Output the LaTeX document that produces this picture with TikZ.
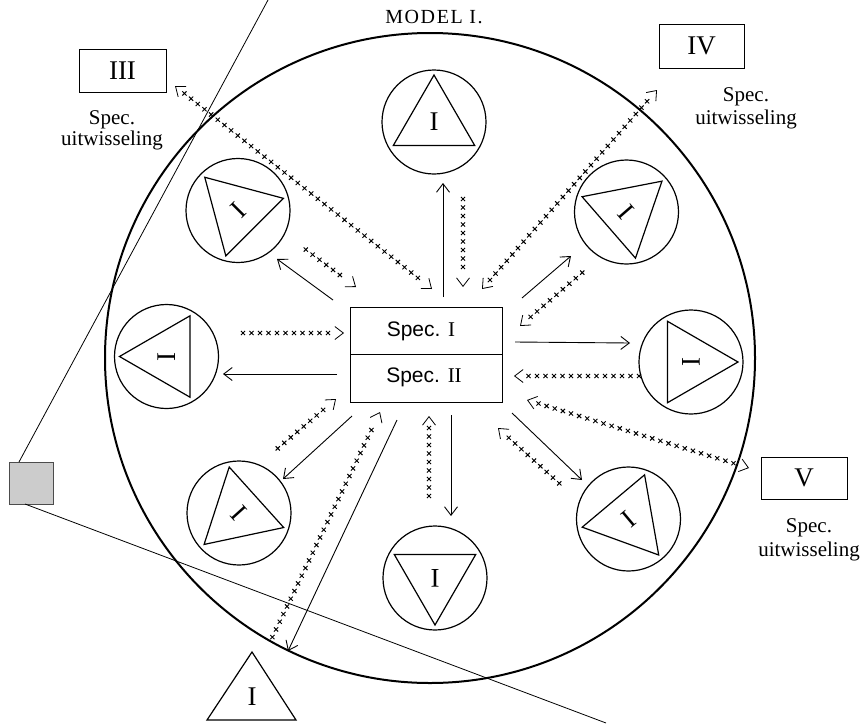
\documentclass[tikz,border=0pt]{standalone}
\usepackage{fontspec}
\setmainfont{Liberation Serif}
\newfontfamily\boxfont{Liberation Sans}
\usetikzlibrary{arrows.meta,decorations.markings,calc}
\newcommand\mycell[3]{%
  \node[smallc] (#1) at (#2) {};
  \draw[tri] ($(#1.center)+({-(#3)}:47)$) -- ($(#1.center)+({-(#3)-120}:47)$) -- ($(#1.center)+({-(#3)+120}:47)$) -- cycle;
  \node[lbl, rotate=#3-90] (#1l) at (#1.center) {I};
}
\tikzset{
  every node/.style={inner sep=0pt, outer sep=0pt},
  smallc/.style={draw, circle, line width=1.2pt, minimum size=104pt},
  tri/.style={line width=1.2pt, line join=miter},
  lbl/.style={font=\fontsize{27}{27}\selectfont},
  numbox/.style={draw, line width=1pt, font=\fontsize{27}{27}\selectfont},
  spx/.style={font=\fontsize{21}{21}\selectfont, anchor=base},
  boxtxt/.style={font=\boxfont\fontsize{21}{21}\selectfont},
  tipx/.tip={Straight Barb[length=8.5pt,width=13pt]},
  sol/.style={line width=0.9pt, -tipx},
  xmk/.style={postaction={decorate, decoration={markings,
     mark=between positions #1 step 8.5pt with {\pgftransformresetnontranslations
       \draw[solid,arrows=-,line width=0.95pt] (-2.1pt,-2.1pt)--(2.1pt,2.1pt) (-2.1pt,2.1pt)--(2.1pt,-2.1pt);}}}},
  xone/.style={line width=0.8pt, dash pattern=on 0pt off 3000pt, -tipx, xmk={1pt and -12pt}},
  xtwo/.style={line width=0.8pt, dash pattern=on 0pt off 3000pt, tipx-tipx, xmk={12pt and -12pt}},
}
\begin{document}
\begin{tikzpicture}[x=1pt,y=-1pt]
\useasboundingbox (0,0) rectangle (864,723);

% title
\node[font=\fontsize{20}{20}\selectfont\addfontfeature{LetterSpace=8}] (title) at (434,17) {MODEL I.};

% big circle
\node[draw, circle, line width=2pt, minimum size=650pt] (big) at (430,358) {};

% small circles with triangles
\mycell{ct}{434,122}{90}
\mycell{cur}{626.5,212}{41}
\mycell{cr}{691,362}{0}
\mycell{clr}{628.5,519}{310}
\mycell{cb}{435,578}{270}
\mycell{cll}{239,513}{222}
\mycell{cl}{166.5,356.5}{180}
\mycell{cul}{238,210.5}{135}

% central box
\node[draw, line width=1pt, minimum width=152pt, minimum height=95pt] (sbox) at (426,354.5) {};
\draw[line width=1pt] (sbox.west) -- (sbox.east);
\node[boxtxt] (sp1) at (421,331) {Spec. {\rmfamily I}};
\node[boxtxt] (sp2) at (424,377) {Spec. {\rmfamily II}};

% exchange boxes
\node[numbox, minimum width=87pt, minimum height=43pt] (b3) at (122.5,70.5) {III};
\node[spx] (b3a) at (112,124) {Spec.};
\node[spx] (b3b) at (112,145) {uitwisseling};
\node[numbox, minimum width=85pt, minimum height=44pt] (b4) at (701.5,46) {IV};
\node[spx] (b4a) at (746,101) {Spec.};
\node[spx] (b4b) at (746,124) {uitwisseling};
\node[numbox, minimum width=86pt, minimum height=42pt] (b5) at (804,478) {V};
\node[spx] (b5a) at (809,532) {Spec.};
\node[spx] (b5b) at (809,556) {uitwisseling};

% outside square and lines
\node[draw=black!70, line width=0.6pt, fill=black!20, minimum width=44pt, minimum height=42pt] (sq) at (31,483) {};
\coordinate (top) at (268,0);
\coordinate (bot) at (606,723);
\draw[line width=0.8pt] ($(sq.north west)+(10,0)$) -- (top);
\draw[line width=0.8pt] ($(sq.south west)+(16,0)$) -- (bot);

% outside triangle
\coordinate (ota) at (252,652);
\coordinate (otb) at (207,720);
\coordinate (otc) at (296,720);
\draw[tri] (ota) -- (otb) -- (otc) -- cycle;
\node[lbl] (otl) at (252,697) {I};

% solid arrows
\coordinate (a1) at (333,300); \coordinate (a1e) at (277,259);
\coordinate (a2) at (443,297); \coordinate (a2e) at (443,183);
\coordinate (a3) at (522,298); \coordinate (a3e) at (571,256);
\coordinate (a4) at (515,342); \coordinate (a4e) at (630,343);
\coordinate (a5) at (512,413); \coordinate (a5e) at (582,480);
\coordinate (a6) at (451,415); \coordinate (a6e) at (451,516);
\coordinate (a7) at (352,416); \coordinate (a7e) at (283,479);
\coordinate (a8) at (337,374); \coordinate (a8e) at (223,374);
\coordinate (a9) at (397,420); \coordinate (a9e) at (288,651);
\draw[sol] (a1) -- (a1e);
\draw[sol] (a2) -- (a2e);
\draw[sol] (a3) -- (a3e);
\draw[sol] (a4) -- (a4e);
\draw[sol] (a5) -- (a5e);
\draw[sol] (a6) -- (a6e);
\draw[sol] (a7) -- (a7e);
\draw[sol] (a8) -- (a8e);
\draw[sol] (a9) -- (a9e);

% x-lines
\coordinate (x1) at (175,86); \coordinate (x1e) at (432,289);
\coordinate (x2) at (305,249); \coordinate (x2e) at (356,287);
\coordinate (x3) at (463,198); \coordinate (x3e) at (463,287);
\coordinate (x4) at (583,272); \coordinate (x4e) at (520,326);
\coordinate (x5) at (482,289); \coordinate (x5e) at (657,90);
\coordinate (x6) at (640,376); \coordinate (x6e) at (514,376);
\coordinate (x7) at (527,400); \coordinate (x7e) at (749,468);
\coordinate (x8) at (560,484); \coordinate (x8e) at (498,428);
\coordinate (x9) at (429,497); \coordinate (x9e) at (429,416);
\coordinate (x10) at (277,449); \coordinate (x10e) at (336,399);
\coordinate (x11) at (272,638); \coordinate (x11e) at (380,412);
\coordinate (x12) at (242,333); \coordinate (x12e) at (344,333);
\draw[xtwo] (x1) -- (x1e);
\draw[xone] (x2) -- (x2e);
\draw[xone] (x3) -- (x3e);
\draw[xone] (x4) -- (x4e);
\draw[xtwo] (x5) -- (x5e);
\draw[xone] (x6) -- (x6e);
\draw[xtwo] (x7) -- (x7e);
\draw[xone] (x8) -- (x8e);
\draw[xone] (x9) -- (x9e);
\draw[xone] (x10) -- (x10e);
\draw[xone] (x11) -- (x11e);
\draw[xone] (x12) -- (x12e);
\end{tikzpicture}
\end{document}
